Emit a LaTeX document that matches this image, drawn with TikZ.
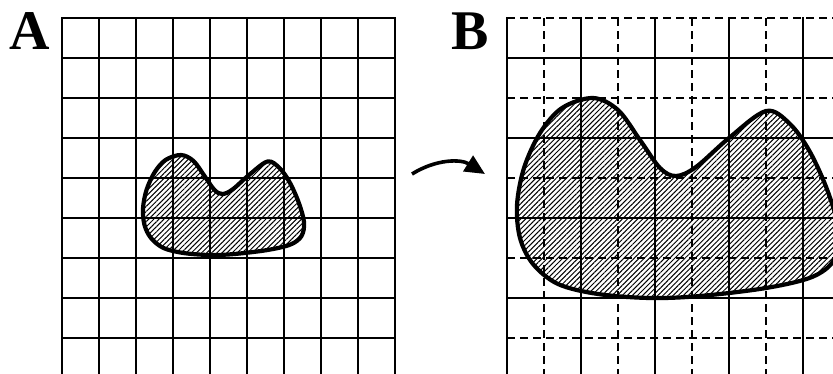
\documentclass[tikz,border=0pt]{standalone}
\usepackage{fontspec}
\setmainfont{Liberation Serif}
\usetikzlibrary{patterns.meta,arrows.meta}
\tikzset{
  gridline/.style={line width=2.1pt,line cap=rect},
  dashline/.style={line width=2.1pt,dash pattern=on 8pt off 5pt},
  outline/.style={line width=4.2pt,line join=round},
  hatch/.style={pattern={Lines[angle=45,distance=3.6pt,line width=1pt]}},
  blobshape/.style={insert path={plot[smooth cycle,tension=0.55] coordinates {
    (517,205) (524,168) (540,133) (562,108) (593,98) (618,110) (640,140)
    (660,168) (676,176) (696,167) (729,138) (766,111) (790,124) (810,152)
    (828,192) (839,232) (834,260) (812,277) (766,288) (700,296) (650,298)
    (598,294) (558,284) (533,264) (520,238)}}},
  panel/.style={font=\bfseries\fontsize{56}{56}\selectfont,inner sep=0pt}
}
\begin{document}
\begin{tikzpicture}[x=1pt,y=-1pt]
\useasboundingbox (0,0) rectangle (833,373);
\fill[white] (0,0) rectangle (833,373);
\clip (0,0) rectangle (833,373);
% ---------- panel A ----------
\node[panel] (labA) at (29.5,31.5) {A};
\begin{scope}[shift={(-115.5,106)},scale=0.5]
  \path[fill=white,hatch,blobshape];
\end{scope}
\foreach \i in {0,...,9} \draw[gridline] (62+37*\i,18) -- (62+37*\i,380);
\foreach \j in {0,...,8} \draw[gridline] (62,18+40*\j) -- (395,18+40*\j);
\begin{scope}[shift={(-115.5,106)},scale=0.5]
  \draw[outline,blobshape];
\end{scope}
% ---------- arrow ----------
\coordinate (arrS) at (412,174);
\coordinate (arrE) at (485,174);
\draw[line width=3.6pt,-{Triangle[length=20pt,width=18pt]}] (arrS) to[bend left=32] (arrE);
% ---------- panel B ----------
\node[panel] (labB) at (470.5,31.5) {B};
\path[fill=white,hatch,blobshape];
\foreach \i in {0,...,3} \draw[dashline] (544+74*\i,18) -- (544+74*\i,380);
\foreach \j in {0,...,3} \draw[gridline] (507,58+80*\j) -- (840,58+80*\j);
\foreach \j in {0,...,4} \draw[dashline] (507,18+80*\j) -- (840,18+80*\j);
\foreach \i in {0,...,4} \draw[gridline] (507+74*\i,18) -- (507+74*\i,380);
\draw[outline,blobshape];
\end{tikzpicture}
\end{document}
